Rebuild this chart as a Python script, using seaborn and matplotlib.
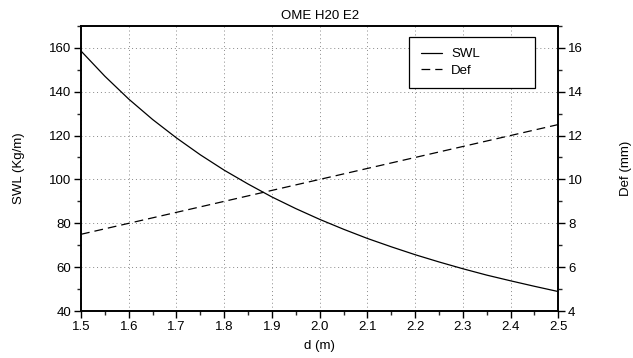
import numpy as np
import pandas as pd
import matplotlib
matplotlib.use("Agg")
import matplotlib.pyplot as plt
import seaborn as sns
from matplotlib.ticker import MultipleLocator, FormatStrFormatter
from matplotlib.lines import Line2D

# values
d_swl = [1.50, 1.55, 1.60, 1.65, 1.70, 1.75, 1.80, 1.85, 1.90, 1.95, 2.00,
         2.05, 2.10, 2.15, 2.20, 2.25, 2.30, 2.35, 2.40, 2.45, 2.50]
swl = [158.5, 147.0, 136.6, 127.3, 118.9, 111.2, 104.2, 97.9, 92.0, 86.7, 81.8,
       77.3, 73.1, 69.3, 65.7, 62.4, 59.3, 56.4, 53.8, 51.3, 48.9]
d_def = [1.5, 1.6, 1.7, 1.8, 1.9, 2.0, 2.1, 2.2, 2.3, 2.4, 2.5]
defl = [7.5, 8.0, 8.5, 9.0, 9.5, 10.0, 10.5, 11.0, 11.5, 12.0, 12.5]

sns.set_theme(style="ticks")
plt.rcParams['font.family'] = ['Liberation Sans', 'DejaVu Sans']
plt.rcParams['text.color'] = 'black'
plt.rcParams['axes.labelcolor'] = 'black'
fs = 9.5

df_swl = pd.DataFrame({'d': d_swl, 'SWL': swl})
df_def = pd.DataFrame({'d': d_def, 'Def': defl})

fig, ax = plt.subplots(figsize=(6.33, 3.58), dpi=100)
ax2 = ax.twinx()

sns.lineplot(data=df_swl, x='d', y='SWL', ax=ax, color='black', linewidth=0.9)
sns.lineplot(data=df_def, x='d', y='Def', ax=ax2, color='black', linewidth=0.9)
ax2.lines[0].set_dashes([7, 4])

ax.set_xlim(1.5, 2.5)
ax.set_ylim(40, 170)
ax2.set_ylim(4, 17)

ax.xaxis.set_major_locator(MultipleLocator(0.1))
ax.xaxis.set_minor_locator(MultipleLocator(0.05))
ax.xaxis.set_major_formatter(FormatStrFormatter('%.1f'))
ax.yaxis.set_major_locator(MultipleLocator(20))
ax.yaxis.set_minor_locator(MultipleLocator(10))
ax2.yaxis.set_major_locator(MultipleLocator(2))
ax2.yaxis.set_minor_locator(MultipleLocator(1))

ax.grid(True, which='major', linestyle=(0, (1, 3)), color='#888888', linewidth=0.7)

for a in (ax, ax2):
    a.tick_params(axis='both', which='major', direction='out', length=5, width=1,
                  labelsize=fs, colors='black', pad=2)
    a.tick_params(axis='both', which='minor', direction='out', length=3, width=1)
    for s in a.spines.values():
        s.set_visible(True)
        s.set_linewidth(1.2)
        s.set_color('black')

ax.set_xlabel("d (m)", fontsize=fs, labelpad=5)
ax.set_ylabel("SWL (Kg/m)", fontsize=fs, labelpad=17)
ax2.set_ylabel("Def (mm)", fontsize=fs, labelpad=27)
ax.set_title("OME H20 E2", fontsize=fs, pad=5, color='black')

handles = [Line2D([], [], color='black', linewidth=0.9),
           Line2D([], [], color='black', linewidth=0.9, dashes=[7, 4])]
leg = ax.legend(handles, ['SWL', 'Def'], loc='upper left',
                bbox_to_anchor=(0.688, 0.961, 0.264, 0.0), mode='expand',
                fontsize=fs, frameon=True, fancybox=False, edgecolor='black',
                handlelength=1.6, handletextpad=0.7, borderpad=0.85,
                labelspacing=0.3, borderaxespad=0)
leg.get_frame().set_linewidth(0.9)
leg.get_frame().set_alpha(1)

fig.subplots_adjust(left=0.128, right=0.882, top=0.928, bottom=0.131)
fig.savefig("out.png", dpi=100)
